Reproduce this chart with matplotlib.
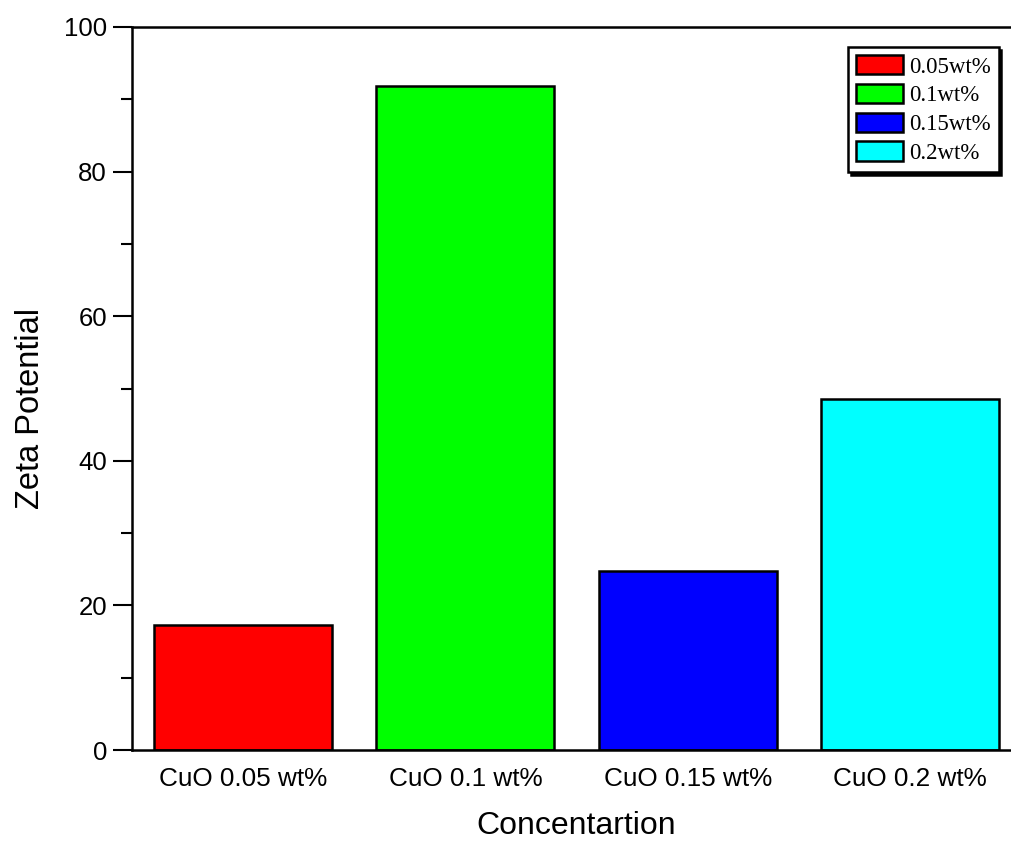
import matplotlib
matplotlib.use("Agg")
import matplotlib.pyplot as plt
from matplotlib.ticker import MultipleLocator

categories = ["CuO 0.05 wt%", "CuO 0.1 wt%", "CuO 0.15 wt%", "CuO 0.2 wt%"]
legend_labels = ["0.05wt%", "0.1wt%", "0.15wt%", "0.2wt%"]
values = [17.3, 91.9, 24.8, 48.5]
colors = ["#ff0000", "#00ff00", "#0000ff", "#00ffff"]

W, H = 1011, 842
fig = plt.figure(figsize=(W / 100, H / 100), dpi=100)
ax = fig.add_axes([132 / W, (H - 750) / H, 889 / W, 723 / H])

x = [1, 2, 3, 4]
bars = ax.bar(x, values, width=0.8, color=colors, edgecolor="black", linewidth=1.8)

ax.set_xlim(0.5, 4.5)
ax.set_ylim(0, 100)
ax.set_xticks(x)
ax.set_xticklabels(categories, fontfamily="Liberation Sans", fontsize=18.8)
ax.tick_params(axis="x", length=0, pad=12.5)
ax.yaxis.set_major_locator(MultipleLocator(20))
ax.yaxis.set_minor_locator(MultipleLocator(10))
ax.tick_params(axis="y", which="major", length=14, width=1.5, direction="out", labelsize=18.5, pad=4)
ax.tick_params(axis="y", which="minor", length=8, width=1.5, direction="out")
for lbl in ax.get_yticklabels():
    lbl.set_fontfamily("Liberation Sans")

for s in ["left", "bottom", "top", "right"]:
    ax.spines[s].set_linewidth(1.8)

ax.set_ylabel("Zeta Potential", fontfamily="Liberation Sans", fontsize=23.5, labelpad=13)
ax.yaxis.label.set_y(0.473)
ax.set_xlabel("Concentartion", fontfamily="Liberation Sans", fontsize=23, labelpad=14)

leg = ax.legend(bars, legend_labels, loc="upper left",
                bbox_to_anchor=(848 / W, 1 - 47 / H), bbox_transform=fig.transFigure,
                borderaxespad=0, fancybox=False, framealpha=1, edgecolor="black",
                prop={"family": "Liberation Serif", "size": 16.5},
                handlelength=2.05, handleheight=0.92, labelspacing=0.27,
                handletextpad=0.25, borderpad=0.35,
                shadow={"color": "black", "alpha": 1})
leg.get_frame().set_linewidth(1.8)

fig.savefig("out.png", dpi=100)
